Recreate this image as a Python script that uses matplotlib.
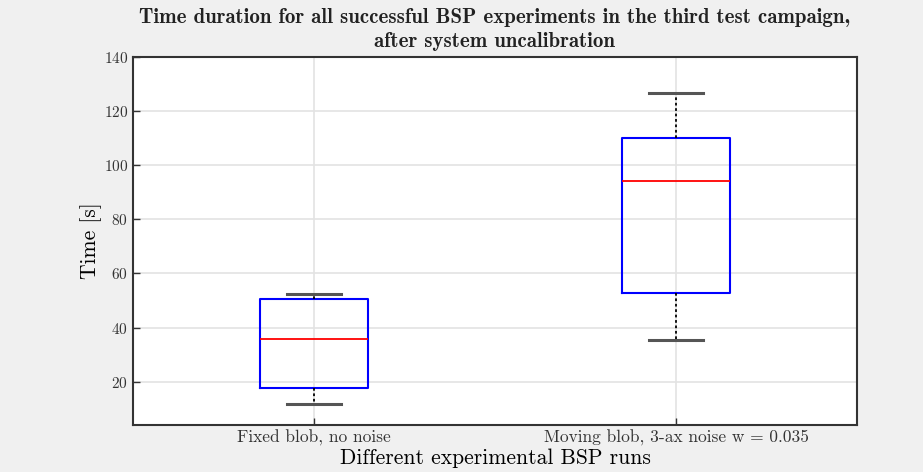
import matplotlib
matplotlib.use("Agg")
import matplotlib.pyplot as plt

# box statistics (seconds)
labels = ["Fixed blob, no noise", "Moving blob, 3-ax noise w = 0.035"]
medians = [35.9, 94.2]
q1 = [17.8, 52.9]
q3 = [50.6, 110.1]
whislo = [11.9, 35.5]
whishi = [52.5, 126.7]

plt.rcParams["font.family"] = "cmr10"
plt.rcParams["axes.formatter.use_mathtext"] = True

stats = []
for i in range(len(labels)):
    stats.append(dict(label=labels[i], med=medians[i], q1=q1[i], q3=q3[i],
                      whislo=whislo[i], whishi=whishi[i], fliers=[]))

fig = plt.figure(figsize=(9.23, 4.72), dpi=100, facecolor="#f0f0f0")
ax = fig.add_axes([133 / 923, 1 - 425 / 472, (857 - 133) / 923, (425 - 57) / 472])
ax.set_facecolor("white")

ax.bxp(stats, positions=[1, 2], widths=0.3, showfliers=False,
       boxprops=dict(color="blue", linewidth=1.5),
       medianprops=dict(color="red", linewidth=1.3),
       whiskerprops=dict(color="black", linestyle=(0, (1.5, 1.5)), linewidth=1.3),
       capprops=dict(color="#555555", linewidth=2.2),
       capwidths=0.15)

ax.set_xlim(0.5, 2.5)
ax.set_ylim(4, 140)
ax.set_yticks([20, 40, 60, 80, 100, 120, 140])
ax.grid(True, color="#e3e3e3", linewidth=1.2)
ax.set_axisbelow(True)
ax.tick_params(direction="in", length=5, width=1, colors="#333333", labelsize=11,
               top=False, right=False)
ax.tick_params(axis="x", labelsize=12.5)
for s in ax.spines.values():
    s.set_linewidth(1.5)
    s.set_color("#333333")

ax.set_xlabel("Different experimental BSP runs", fontsize=15.5, labelpad=2)
ax.set_ylabel("Time [s]", fontsize=15.5, labelpad=1)
ax.set_title("Time duration for all successful BSP experiments in the third test campaign,\n"
             "after system uncalibration", fontsize=15, family="cmb10", pad=7,
             linespacing=1.35, color="#222222")

fig.savefig("out.png", dpi=100, facecolor=fig.get_facecolor())
